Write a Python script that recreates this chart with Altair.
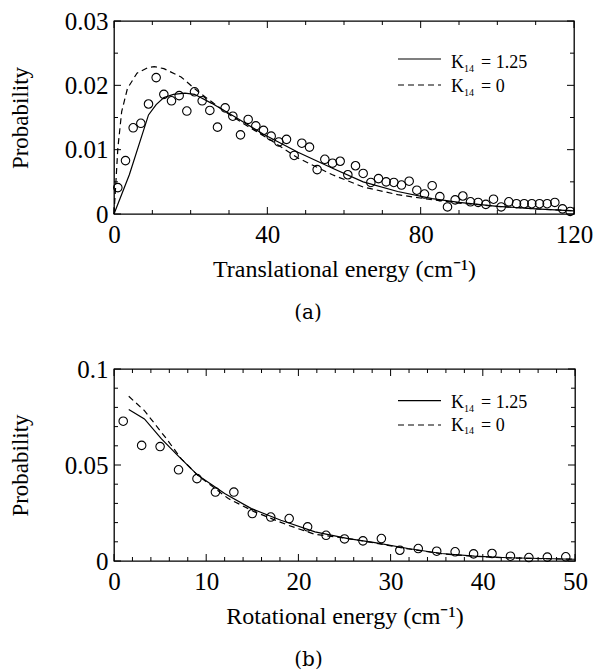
import altair as alt
import pandas as pd

FONT = "Liberation Serif"

# ---------------- Panel (a): translational energy ----------------
trans_x = [1, 3, 5, 7, 9, 11, 13, 15, 17, 19, 21, 23, 25, 27, 29, 31, 33, 35, 37, 39,
           41, 43, 45, 47, 49, 51, 53, 55, 57, 59, 61, 63, 65, 67, 69, 71, 73, 75, 77, 79,
           81, 83, 85, 87, 89, 91, 93, 95, 97, 99, 101, 103, 105, 107, 109, 111, 113, 115, 117, 119]
trans_obs = [0.0041, 0.0083, 0.0134, 0.0141, 0.0171, 0.0212, 0.0186, 0.0176, 0.0184, 0.0160,
             0.0190, 0.0176, 0.0161, 0.0135, 0.0165, 0.0152, 0.0123, 0.0147, 0.0137, 0.0130,
             0.0121, 0.0112, 0.0116, 0.0091, 0.0110, 0.0104, 0.0069, 0.0085, 0.0079, 0.0082,
             0.0061, 0.0075, 0.0063, 0.0049, 0.0055, 0.0050, 0.0049, 0.0045, 0.0051, 0.0037,
             0.0031, 0.0044, 0.0027, 0.0011, 0.0022, 0.0028, 0.0019, 0.0018, 0.0015, 0.0023,
             0.0011, 0.0019, 0.0016, 0.0016, 0.0016, 0.0016, 0.0016, 0.0018, 0.0008, 0.0004]
trans_k125_x = [0, 4, 9, 11, 13, 15.5, 18.5, 21, 25.5, 31.5, 39, 48, 57, 65, 74, 83, 90, 100, 110, 120]
trans_k125_y = [0.0, 0.0061, 0.0154, 0.0170, 0.0181, 0.0186, 0.0188, 0.0186, 0.0172, 0.0151,
                0.0124, 0.0096, 0.0071, 0.0050, 0.0035, 0.0024, 0.0018, 0.0012, 0.0008, 0.0005]
trans_k0_x = [0, 0.5, 1, 2, 3.5, 6, 9, 10.5, 13, 17.5, 22, 26, 30, 35, 40, 48, 57, 65, 74, 82, 90, 100, 110, 120]
trans_k0_y = [0.0, 0.0050, 0.0102, 0.0159, 0.0195, 0.0219, 0.0228, 0.0229, 0.0226, 0.0213, 0.0190,
              0.0172, 0.0155, 0.0136, 0.0118, 0.0087, 0.0061, 0.0042, 0.0030, 0.0023, 0.0017,
              0.0012, 0.0008, 0.0005]
trans_xticks = [0, 40, 80, 120]
trans_xminor = [10, 20, 30, 50, 60, 70, 90, 100, 110]
trans_yticks = [0, 0.01, 0.02, 0.03]
trans_yminor = [0.005, 0.015, 0.025]

# ---------------- Panel (b): rotational energy ----------------
rot_x = [1, 3, 5, 7, 9, 11, 13, 15, 17, 19, 21, 23, 25, 27, 29, 31, 33, 35, 37, 39, 41, 43, 45, 47, 49]
rot_obs = [0.0728, 0.0602, 0.0596, 0.0475, 0.0429, 0.0359, 0.0359, 0.0247, 0.0229, 0.0221,
           0.0178, 0.0134, 0.0115, 0.0105, 0.0117, 0.0056, 0.0065, 0.0051, 0.0048, 0.0037,
           0.0039, 0.0025, 0.0018, 0.0020, 0.0022]
rot_k125_x = [1.6, 3.3, 5.15, 6.9, 9.1, 12, 14.9, 18.1, 21.8, 25.4, 28.3, 31.9, 35.5, 39.1, 42.7, 50]
rot_k125_y = [0.0789, 0.0740, 0.0636, 0.0550, 0.0446, 0.0351, 0.0273, 0.0212, 0.0152, 0.0117,
              0.0096, 0.0065, 0.0039, 0.0025, 0.0017, 0.0009]
rot_k0_x = [1.6, 3.3, 5.7, 7.3, 9.1, 12.4, 15.25, 18.9, 21.8, 25.4, 28.3, 31.9, 35.5, 39.1, 42.7, 50]
rot_k0_y = [0.0858, 0.0783, 0.0636, 0.0532, 0.0446, 0.0325, 0.0256, 0.0186, 0.0139, 0.0117,
            0.0094, 0.0063, 0.0038, 0.0024, 0.0016, 0.0009]
rot_xticks = [0, 10, 20, 30, 40, 50]
rot_xminor = [2, 4, 6, 8, 12, 14, 16, 18, 22, 24, 26, 28, 32, 34, 36, 38, 42, 44, 46, 48]
rot_yticks = [0, 0.05, 0.1]
rot_yminor = [0.01, 0.02, 0.03, 0.04, 0.06, 0.07, 0.08, 0.09]

legend_main = ["K", "K"]
legend_sub = ["14", "14"]
legend_vals = ["= 1.25", "= 0"]
legend_dash = [[1, 0], [6, 4]]

MAJ = 7
MIN = 4


def panel(ox, oy, ax, ay, bx, by, xdom, ydom, xmaj, xmin, ymaj, ymin, xtitle, caption,
          W, H, leg_line_y, leg_base_y):
    xscale = alt.Scale(domain=xdom, nice=False, zero=False)
    yscale = alt.Scale(domain=ydom, nice=False, zero=False)
    xaxis = alt.Axis(values=xmaj, title=xtitle, ticks=False, domain=False, grid=False,
                     labelPadding=8, labelExpr="'' + datum.value", labelFlush=False,
                     labelOverlap=False, titlePadding=10, titleFontSize=24)
    yaxis = alt.Axis(values=ymaj, title="Probability", ticks=False, domain=False, grid=False,
                     labelPadding=6, labelExpr="'' + datum.value", labelFlush=False,
                     labelOverlap=False, titlePadding=32, titleFontSize=23)

    def X(f):
        return alt.X(f, type="quantitative", scale=xscale, axis=xaxis)

    def Y(f):
        return alt.Y(f, type="quantitative", scale=yscale, axis=yaxis)

    layers = []
    d1 = pd.DataFrame({"x": ax, "y": ay})
    d2 = pd.DataFrame({"x": bx, "y": by})
    dp = pd.DataFrame({"x": ox, "y": oy})
    layers.append(alt.Chart(d1).mark_line(color="black", strokeWidth=1.2).encode(x=X("x"), y=Y("y")))
    layers.append(alt.Chart(d2).mark_line(color="black", strokeWidth=1.2, strokeDash=[6, 4]).encode(x=X("x"), y=Y("y")))
    layers.append(alt.Chart(dp).mark_point(shape="circle", filled=False, color="black", size=72,
                                           strokeWidth=1.1, opacity=1).encode(x=X("x"), y=Y("y")))
    # inward ticks on all four sides
    for vals, ln in ((xmaj, MAJ), (xmin, MIN)):
        dt = pd.DataFrame({"v": vals})
        layers.append(alt.Chart(dt).mark_rule(color="black", strokeWidth=1).encode(
            x=X("v"), y=alt.value(H), y2=alt.value(H - ln)))
        layers.append(alt.Chart(dt).mark_rule(color="black", strokeWidth=1).encode(
            x=X("v"), y=alt.value(0), y2=alt.value(ln)))
    for vals, ln in ((ymaj, MAJ), (ymin, MIN)):
        dt = pd.DataFrame({"v": vals})
        layers.append(alt.Chart(dt).mark_rule(color="black", strokeWidth=1).encode(
            y=Y("v"), x=alt.value(0), x2=alt.value(ln)))
        layers.append(alt.Chart(dt).mark_rule(color="black", strokeWidth=1).encode(
            y=Y("v"), x=alt.value(W), x2=alt.value(W - ln)))
    # legend
    for i in range(2):
        dl = pd.DataFrame({"main": [legend_main[i]], "sub": [legend_sub[i]], "val": [legend_vals[i]]})
        layers.append(alt.Chart(dl).mark_rule(color="black", strokeWidth=1.2, strokeDash=legend_dash[i]).encode(
            x=alt.value(284), x2=alt.value(327), y=alt.value(leg_line_y[i])))
        layers.append(alt.Chart(dl).mark_text(align="left", baseline="alphabetic", font=FONT, fontSize=18,
                                              color="black").encode(
            x=alt.value(337), y=alt.value(leg_base_y[i]), text="main:N"))
        layers.append(alt.Chart(dl).mark_text(align="left", baseline="alphabetic", font=FONT, fontSize=10,
                                              color="black").encode(
            x=alt.value(350), y=alt.value(leg_base_y[i] + 3.4), text="sub:N"))
        layers.append(alt.Chart(dl).mark_text(align="left", baseline="alphabetic", font=FONT, fontSize=18,
                                              color="black").encode(
            x=alt.value(367), y=alt.value(leg_base_y[i]), text="val:N"))
    return alt.layer(*layers).properties(
        width=W, height=H,
        title=alt.TitleParams(caption, orient="bottom", anchor="middle", font="DejaVu Serif",
                              fontSize=20, fontWeight="normal", color="black", offset=22, dx=-36))


top = panel(trans_x, trans_obs, trans_k125_x, trans_k125_y, trans_k0_x, trans_k0_y,
            [0, 120], [0, 0.03], trans_xticks, trans_xminor, trans_yticks, trans_yminor,
            "Translational energy (cm⁻¹)", "(a)", 460, 193, [38, 64], [47.3, 71.3])
bottom = panel(rot_x, rot_obs, rot_k125_x, rot_k125_y, rot_k0_x, rot_k0_y,
               [0, 50], [0, 0.1], rot_xticks, rot_xminor, rot_yticks, rot_yminor,
               "Rotational energy (cm⁻¹)", "(b)", 461, 192, [31.7, 56], [39.3, 61.7])

chart = alt.vconcat(top, bottom, spacing=32).properties(
    padding={"top": 0, "left": 0, "right": 5, "bottom": 0}
).configure_view(stroke="black", strokeWidth=1.3).configure_axis(
    labelFont=FONT, titleFont=FONT, labelFontSize=25,
    labelColor="black", titleColor="black", titleFontWeight="normal"
)

chart.save("out.html", embed_options={"renderer": "svg", "actions": False})
